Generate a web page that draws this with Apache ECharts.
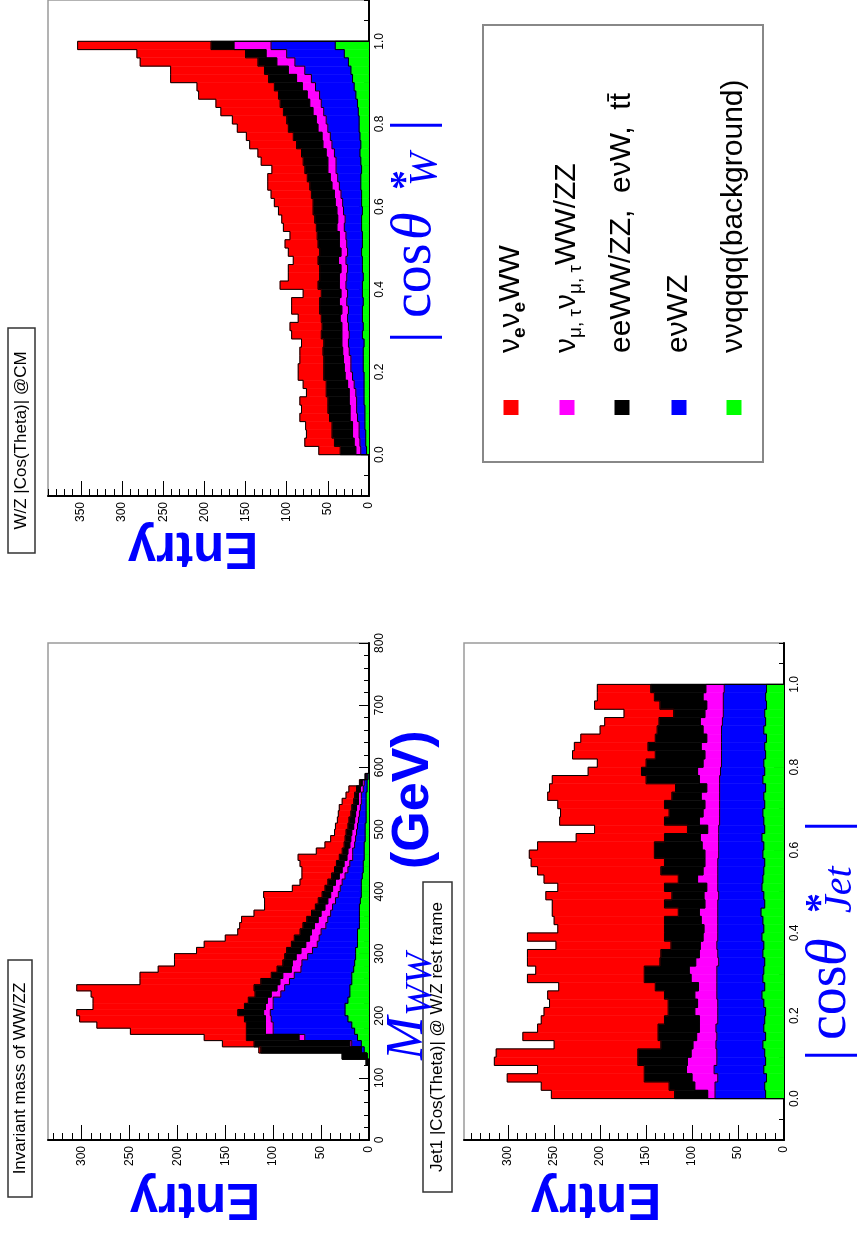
<!DOCTYPE html>
<html><head><meta charset="utf-8">
<script src="https://cdn.jsdelivr.net/npm/echarts@6/dist/echarts.min.js"></script>
<style>html,body{margin:0;padding:0;background:#fff}#c{width:863px;height:1234px}</style>
</head><body><div id="c"></div>
<script>
// ---------------- DATA ----------------
// Stack order (from axis outwards): green, blue, magenta, black, red
const layerColors = ['#00ff00', '#0000ff', '#ff00ff', '#000000', '#ff0000'];

// Panel A : M_WW (GeV), bin lower edges, width 10 GeV
const massBins = [120,130,140,150,160,170,180,190,200,210,220,230,240,250,260,270,280,290,300,310,320,330,340,350,360,370,380,390,400,410,420,430,440,450,460,470,480,490,500,510,520,530,540,550,560,570,580];
const massBinWidth = 10;
const A_green   = [0,2,5,8,12,15,18,22,25,25, 22,20,20,18,18,16,15,14,14,12, 12,12,10,10,10,10,9,8,8,8, 7,6,6,5,5,5,4,4,4,3, 3,3,3,3,2,2,1];
const A_blue    = [0,0,3,10,55,85,82,80,78,75, 78,72,68,65,60,55,55,50,45,42, 40,38,35,33,30,28,26,24,22,20, 18,16,14,12,12,10,10,9,8,8, 7,6,5,5,4,3,1];
const A_magenta = [0,0,0,2,6,8,8,6,7,8, 6,10,8,10,12,10,10,12,12,12, 10,10,12,10,10,8,8,8,8,7, 6,6,6,6,5,5,5,5,4,4, 4,4,3,3,3,2,1];
const A_black   = [3,26,105,100,55,20,20,22,27,22, 20,17,24,20,12,15,10,12,15,15, 16,12,12,12,10,10,10,9,8,8, 8,8,8,8,6,6,6,6,6,6, 5,5,5,4,4,2,1];
const A_red     = [0,0,2,33,44,121,156,172,168,158, 162,171,185,126,137,124,113,115,94,91, 72,65,66,68,60,53,56,61,34,29, 31,34,38,43,27,20,15,12,13,12, 13,13,12,9,8,1,0];

// Panels B and C : |cos theta*|, bin lower edges, width 0.02
const cosBins = [0,0.02,0.04,0.06,0.08,0.10,0.12,0.14,0.16,0.18,0.20,0.22,0.24,0.26,0.28,0.30,0.32,0.34,0.36,0.38,0.40,0.42,0.44,0.46,0.48,0.50,0.52,0.54,0.56,0.58,0.60,0.62,0.64,0.66,0.68,0.70,0.72,0.74,0.76,0.78,0.80,0.82,0.84,0.86,0.88,0.90,0.92,0.94,0.96,0.98];
const cosBinWidth = 0.02;

const B_green   = [20,21,19,22,20,21,23,20,22,21, 20,22,24,21,23,22,21,23,22,24, 22,23,25,21,22,24,23,22,21,23, 22,24,21,22,23,21,22,20,23,21, 22,20,21,19,22,20,21,19,20,19];
const B_blue    = [55,54,53,54,53,52,51,53,52,51, 52,50,49,52,50,51,50,49,51,48, 50,49,47,51,49,48,49,50,51,48, 49,47,50,48,47,49,48,50,47,48, 46,48,47,49,46,47,45,47,46,46];
const B_magenta = [8,22,28,30,32,28,25,22,18,20, 25,22,24,20,28,30,25,20,18,16, 15,18,20,14,16,12,22,16,14,15, 18,20,12,22,18,16,20,14,22,25, 20,18,22,16,20,24,20,18,22,20];
const B_black   = [36,28,52,46,54,58,35,42,45,38, 29,32,33,47,51,49,39,42,32,42, 43,40,23,44,35,46,21,46,44,55, 52,39,22,38,37,44,32,34,58,61, 62,54,58,56,50,45,34,51,53,60];
const B_red     = [134,139,149,116,156,154,116,147,131,134, 135,129,127,105,127,118,144,145,125,149, 116,120,137,122,137,116,146,134,145,136, 127,96,101,114,118,116,135,137,102,58, 53,90,80,81,62,59,54,71,62,58];

const C_green   = [3,4,4,5,5,5,6,6,6,6, 7,7,7,6,8,7,8,8,7,8, 8,7,8,8,9,8,8,9,9,8, 9,9,10,10,9,10,11,10,11,12, 12,13,14,16,18,20,22,25,30,41];
const C_blue    = [7,7,8,7,9,10,9,10,12,14, 15,15,17,19,16,18,18,17,20,18, 20,20,18,20,17,19,20,21,20,23, 23,25,26,28,31,30,31,35,36,38, 40,42,44,44,47,50,56,65,70,78];
const C_magenta = [6,7,8,8,9,8,9,8,8,9, 8,9,8,8,9,8,9,8,9,8, 8,9,8,9,8,9,8,9,9,8, 9,8,9,9,10,10,10,11,10,12, 12,13,14,15,16,18,20,22,25,45];
const C_black   = [19,24,25,25,25,27,26,28,26,26, 25,24,24,22,25,24,23,27,24,24, 26,24,26,25,26,26,27,25,28,29, 27,28,27,28,28,30,30,32,35,36, 36,36,36,35,34,34,29,23,25,28];
const C_red     = [26,36,31,32,36,32,34,24,28,31, 31,29,28,27,36,39,28,34,34,22, 46,38,38,30,38,40,33,40,40,42, 47,49,51,48,40,51,53,57,57,62, 66,76,78,97,94,119,114,143,132,162];

// Tick labels
const entryTicksA = [0,50,100,150,200,250,300];
const entryTicksB = [0,50,100,150,200,250,300];
const entryTicksC = [0,50,100,150,200,250,300,350];
const massTicks = [0,100,200,300,400,500,600,700,800];
const cosTicks = [0,0.2,0.4,0.6,0.8,1.0];

// ---------------- LAYOUT ----------------
const panels = [
  { bins: massBins, width: massBinWidth, layers: [A_green, A_blue, A_magenta, A_black, A_red],
    grid: {left: 48, top: 643, width: 321, height: 497},
    entryMax: 335, entryTicks: entryTicksA, binMin: 0, binMax: 800, binTicks: massTicks, binMinorStep: 20,
    fmt: v => String(v) },
  { bins: cosBins, width: cosBinWidth, layers: [B_green, B_blue, B_magenta, B_black, B_red],
    grid: {left: 464, top: 643, width: 320, height: 497},
    entryMax: 348, entryTicks: entryTicksB, binMin: -0.1, binMax: 1.1, binTicks: cosTicks, binMinorStep: 0.05,
    fmt: v => v.toFixed(1) },
  { bins: cosBins, width: cosBinWidth, layers: [C_green, C_blue, C_magenta, C_black, C_red],
    grid: {left: 48, top: -2, width: 321, height: 498},
    entryMax: 390, entryTicks: entryTicksC, binMin: -0.1, binMax: 1.1, binTicks: cosTicks, binMinorStep: 0.05,
    fmt: v => v.toFixed(1) }
];

function stepValues(min, max, step) {
  const out = [];
  const start = Math.ceil(min / step - 1e-9);
  for (let k = start; k * step <= max + 1e-9; k++) out.push(+(k * step).toFixed(6));
  return out;
}

const grids = [], xAxes = [], yAxes = [], series = [];
const labelFont = {fontSize: 12, fontFamily: 'Liberation Sans', color: '#000'};

panels.forEach((p, gi) => {
  grids.push(Object.assign({show: true, borderColor: '#9a9a9a', borderWidth: 1.5, backgroundColor: 'transparent'}, p.grid));
  xAxes.push({type: 'value', gridIndex: gi, inverse: true, min: 0, max: p.entryMax, position: 'bottom',
    axisLine: {show: true, onZero: false, lineStyle: {color: '#000', width: 2}},
    axisTick: {show: true, inside: true, length: 15, customValues: p.entryTicks, lineStyle: {color: '#000', width: 1}},
    axisLabel: Object.assign({show: true, rotate: 90, margin: 6, customValues: p.entryTicks}, labelFont),
    splitLine: {show: false}});
  xAxes.push({type: 'value', gridIndex: gi, inverse: true, min: 0, max: p.entryMax, position: 'bottom',
    axisLine: {show: false, onZero: false},
    axisTick: {show: true, inside: true, length: 7, customValues: stepValues(0, p.entryMax, 10), lineStyle: {color: '#000', width: 1}},
    axisLabel: {show: false}, splitLine: {show: false}});
  yAxes.push({type: 'value', gridIndex: gi, min: p.binMin, max: p.binMax, position: 'right',
    axisLine: {show: true, onZero: false, lineStyle: {color: '#000', width: 2}},
    axisTick: {show: true, inside: true, length: 10, customValues: p.binTicks, lineStyle: {color: '#000', width: 1}},
    axisLabel: Object.assign({show: true, rotate: 90, margin: 5, customValues: p.binTicks, formatter: p.fmt}, labelFont),
    splitLine: {show: false}});
  yAxes.push({type: 'value', gridIndex: gi, min: p.binMin, max: p.binMax, position: 'right',
    axisLine: {show: false, onZero: false},
    axisTick: {show: true, inside: true, length: 5, customValues: stepValues(p.binMin, p.binMax, p.binMinorStep), lineStyle: {color: '#000', width: 1}},
    axisLabel: {show: false}, splitLine: {show: false}});

  const n = p.bins.length;
  let base = new Array(n).fill(0);
  const cum = [];
  p.layers.forEach((vals, L) => {
    const low = base.slice();
    const top = vals.map((v, i) => low[i] + v);
    const color = layerColors[L];
    series.push({
      type: 'custom', xAxisIndex: gi * 2, yAxisIndex: gi * 2, clip: true, z: 2, silent: true,
      encode: {x: [2, 3], y: [0, 1]},
      data: p.bins.map((lo, i) => [lo, lo + p.width, low[i], top[i]]),
      renderItem: (params, api) => {
        const lo = api.value(0), hi = api.value(1), c0 = api.value(2), c1 = api.value(3);
        if (c1 <= c0) return null;
        const a = api.coord([c0, lo]), b = api.coord([c1, hi]);
        return {type: 'rect',
          shape: {x: Math.min(a[0], b[0]), y: Math.min(a[1], b[1]), width: Math.abs(b[0] - a[0]), height: Math.abs(b[1] - a[1])},
          style: {fill: color, stroke: color, lineWidth: 0.6}};
      }
    });
    cum.push(top);
    base = top;
  });
  series.push({
    type: 'custom', xAxisIndex: gi * 2, yAxisIndex: gi * 2, clip: true, z: 3, silent: true,
    encode: {x: 2, y: [0, 1]},
    data: p.bins.map((lo, i) => [lo, lo + p.width, i]),
    renderItem: (params, api) => {
      const lo = api.value(0), hi = api.value(1), i = api.value(2);
      const children = [];
      cum.forEach(top => {
        const prev = i > 0 ? top[i - 1] : 0;
        const cur = top[i];
        const pts = [api.coord([prev, lo]), api.coord([cur, lo]), api.coord([cur, hi])];
        if (i === n - 1) pts.push(api.coord([0, hi]));
        children.push({type: 'polyline', shape: {points: pts}, style: {stroke: '#000', lineWidth: 1, fill: null}});
      });
      return {type: 'group', children};
    }
  });
});

// ---------------- TEXT / DECORATION ----------------
const BLUE = '#0000ff';
function rt(text, x, y, font) {
  return {type: 'text', x: x, y: y, rotation: Math.PI / 2, z: 20,
    style: {text: text, font: font, fill: BLUE, textAlign: 'left', align: 'left', textVerticalAlign: 'middle', verticalAlign: 'middle'}};
}
const serif = '"Liberation Serif", "DejaVu Serif", serif';
const sans = '"Liberation Sans", Arial, sans-serif';
const graphics = [];

const titleBoxes = [
  {x: 8, y: 960, w: 24, h: 237, text: 'Invariant mass of WW/ZZ'},
  {x: 423, y: 882, w: 29, h: 310, text: 'Jet1 |Cos(Theta)| @ W/Z rest frame'},
  {x: 8, y: 328, w: 27, h: 225, text: 'W/Z |Cos(Theta)| @CM'}
];
titleBoxes.forEach(b => {
  graphics.push({type: 'rect', z: 10, shape: {x: b.x, y: b.y, width: b.w, height: b.h}, style: {fill: '#fff', stroke: '#333', lineWidth: 1.5}});
  graphics.push({type: 'text', z: 11, x: b.x + b.w / 2, y: b.y + b.h / 2, rotation: Math.PI / 2,
    style: {text: b.text, font: '17px ' + sans, fill: '#000', textAlign: 'center', align: 'center', textVerticalAlign: 'middle', verticalAlign: 'middle'}});
});

[[195, 1198], [596, 1198], [193, 547]].forEach(c => {
  graphics.push({type: 'text', z: 20, x: c[0], y: c[1], rotation: Math.PI,
    style: {text: 'Entry', font: 'bold 51px ' + sans, fill: BLUE, textAlign: 'center', align: 'center', textVerticalAlign: 'middle', verticalAlign: 'middle'}});
});

graphics.push(rt('M', 408, 1060, 'italic 52px ' + serif));
graphics.push(rt('WW', 421, 1016, 'italic 38px ' + serif));
graphics.push(rt('(GeV)', 414, 869, 'bold 52px ' + sans));

function cosTitle(xc, yBar1, yCos, yTheta, yStar, ySub, yBar2, sub) {
  graphics.push(rt('|', xc, yBar1, '58px ' + serif));
  graphics.push(rt('cos', xc, yCos, '56px ' + serif));
  graphics.push(rt('θ', xc, yTheta, 'italic 56px ' + serif));
  graphics.push(rt('*', xc - 8, yStar, 'bold 40px ' + serif));
  graphics.push(rt(sub, xc + 10, ySub, 'italic 40px ' + serif));
  graphics.push(rt('|', xc, yBar2, '58px ' + serif));
}
cosTitle(830, 1061, 1040, 966, 913, 913, 832, 'Jet');
cosTitle(415, 343, 318, 240, 190, 186, 131, 'W');

graphics.push({type: 'rect', z: 10, shape: {x: 483, y: 25, width: 280, height: 437}, style: {fill: '#fff', stroke: '#888', lineWidth: 2}});
const legendItems = [
  {text: 'ν{sb|e}ν{sb|e}WW', color: '#ff0000'},
  {text: 'ν{s|μ, τ}ν{s|μ, τ}WW/ZZ', color: '#ff00ff'},
  {text: 'eeWW/ZZ,  eνW,  tt\u0304', color: '#000000'},
  {text: 'eνWZ', color: '#0000ff'},
  {text: 'ννqqqq(background)', color: '#00ff00'}
];
const legendX = [511, 567, 622, 679, 734];
legendItems.forEach((it, k) => {
  const xc = legendX[k];
  graphics.push({type: 'rect', z: 11, shape: {x: xc - 7.5, y: 400, width: 15, height: 15}, style: {fill: it.color}});
  graphics.push({type: 'text', z: 11, x: xc, y: 353, rotation: Math.PI / 2,
    style: {text: it.text, font: '30px ' + sans, fill: '#000', lineHeight: 36,
      textAlign: 'left', align: 'left', textVerticalAlign: 'middle', verticalAlign: 'middle',
      rich: {
        sb: {fontSize: 19, fontWeight: 'bold', fontFamily: 'Liberation Sans', lineHeight: 13, verticalAlign: 'bottom'},
        s: {fontSize: 19, fontFamily: 'Liberation Sans', lineHeight: 13, verticalAlign: 'bottom'}
      }}});
});

const chart = echarts.init(document.getElementById('c'), null, {renderer: 'canvas'});
chart.setOption({
  animation: false,
  backgroundColor: '#fff',
  grid: grids, xAxis: xAxes, yAxis: yAxes, series: series,
  graphic: {elements: graphics}
});
</script></body></html>
